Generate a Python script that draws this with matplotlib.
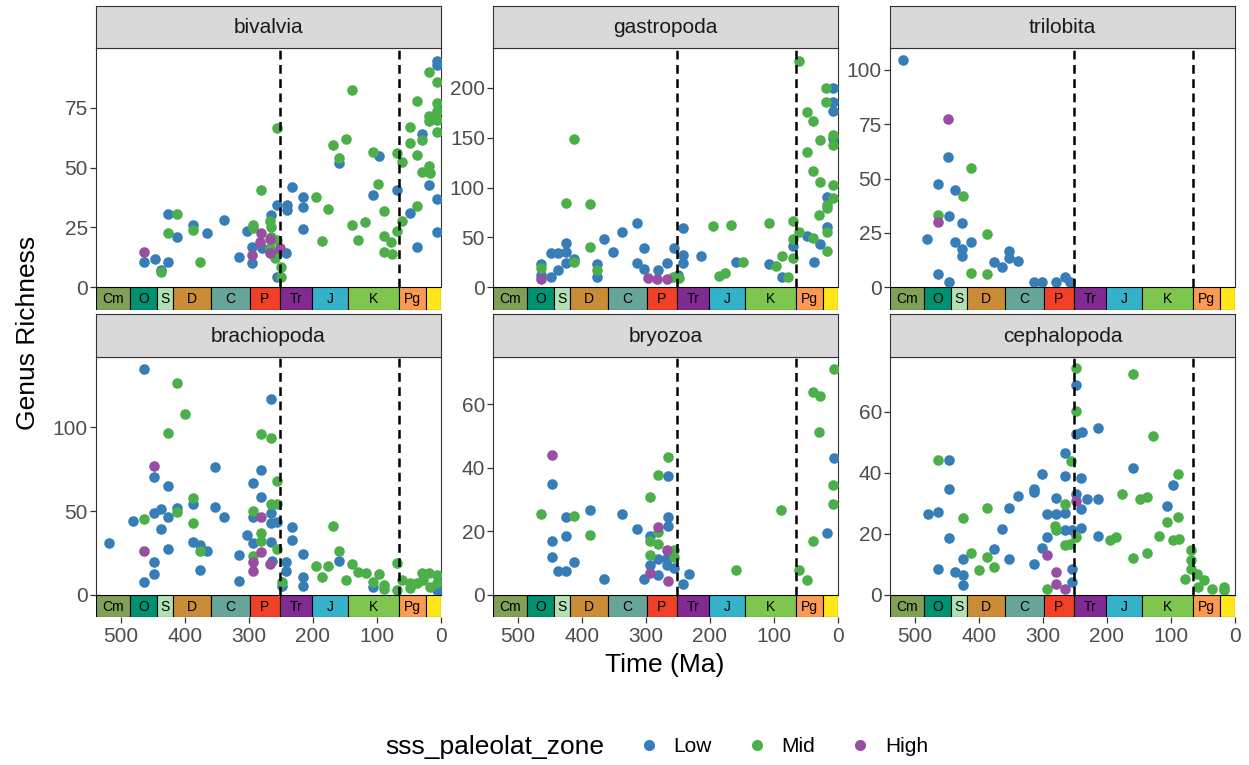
import matplotlib
matplotlib.use('Agg')
import matplotlib.pyplot as plt
from matplotlib.lines import Line2D

plt.rcParams['font.family'] = ['Liberation Sans', 'DejaVu Sans']

# ---- data: time (Ma) and genus richness per class and paleolatitude zone ----
biv_low_t = [6.5, 6.5, 28.9, 96.7, 159.2, 17.9, 69, 106.6, 6.5, 233.3, 215, 215, 241.1, 241, 256.7, 266.1, 215, 48.2, 37.8, 6.5,
             426.1, 413.1, 387, 365.1, 338.6, 303.6, 464.2, 447, 426.1, 438.1, 315.1, 294.8, 294.8, 256.7, 242.2, 280.2, 256.7]
biv_low_n = [94.4, 93, 64, 54.7, 51.9, 42.8, 40.7, 38.6, 36.8, 42.1, 37.9, 33.7, 34.4, 32.4, 34.4, 30.3, 24.3, 31, 17, 23.3,
             30.7, 20.9, 25.9, 22.9, 28.2, 23.7, 10.7, 11.7, 10.5, 7.2, 12.8, 17, 10.3, 4.5, 14.2, 16.3, 14.2]
biv_mid_t = [17.9, 6.5, 138.4, 37.8, 6.5, 6.5, 17.9, 6.5, 17.9, 48.2, 6.5, 255.7, 168.1, 148.3, 28.9, 48.2, 106.6, 69, 37.8,
             61.2, 159.2, 17.9, 28.9, 16.9, 97.7, 281.7, 195.7, 177, 88.9, 37.8, 61.2, 118.6, 138.4, 69, 129, 88.9, 77.9,
             186.3, 88.9, 76.9, 413.1, 426.1, 388.1, 376.6, 438.1, 293.2, 293.2, 267.2, 266.1, 266, 256.7, 267.2, 250.5,
             250.5, 259.3]
biv_mid_n = [90, 85.6, 82.6, 77.7, 77, 73.5, 71.4, 70, 69.3, 67, 65.1, 66.7, 59.6, 61.9, 61.6, 60.3, 56.5, 56.3, 55.4,
             52.2, 54, 50.8, 48, 47.7, 43.1, 40.7, 37.9, 32.6, 31.7, 33.8, 27.5, 27.1, 25.9, 23.7, 19.8, 21.5, 19.1,
             19.4, 14.6, 13.9, 30.7, 22.9, 24, 10.7, 6.3, 26.1, 24.7, 27.5, 25.4, 21.2, 19.8, 16.3, 8.6,
             4.5, 12.1]
biv_high_t = [464.2, 281.7, 282.8, 267.2, 294.8, 267.2, 251.5]
biv_high_n = [14.8, 22.9, 19.1, 20.1, 13.5, 14.2, 16.3]

gas_low_t = [7, 7, 7, 7, 17.4, 17.4, 48.7, 27.9, 37.2, 69.6, 107.1, 87.8, 159.8, 241.6, 241.6, 241.6, 214.5, 255.7, 249.4,
             266.6, 280.7, 314.6, 303.1, 338.1, 352.1, 365.2, 314.6, 303.1, 425.1, 425.1, 448.6, 437.1, 412.1, 425.1,
             377.2, 464.7, 377.2, 437.1, 448.6, 464.7]
gas_low_n = [200.2, 186.2, 176.8, 149.4, 90.2, 60.1, 51.4, 43.4, 25, 41.7, 23.3, 10, 25.7, 59.8, 32.4, 24.7, 31.4, 39.1, 12.3,
             24, 17.3, 64.1, 39.1, 55.8, 35.7, 48.1, 24.7, 18, 44.1, 35.7, 34, 34, 28, 24.7,
             23, 23.3, 10.6, 17.3, 10, 12.3]
gas_mid_t = [60.2, 18.5, 18.5, 48.7, 38.3, 27.9, 7, 7, 48.7, 38.3, 27.9, 7, 7, 17.4, 17.4, 28.9, 70.6, 60.2, 70.6, 38.3,
             17.4, 16.4, 70.6, 107.1, 87.8, 96.7, 77.4, 167.6, 195.7, 147.8, 176.4, 185.8, 412.6, 425.1, 387.6, 387.6,
             412.6, 464.7, 377.2, 247.9, 257.2]
gas_mid_n = [227.3, 199.5, 185.5, 176.1, 166.8, 147.7, 152.7, 142.7, 135.3, 117, 105.3, 102.6, 89.2, 82.5, 79.2, 72.5, 66.5,
             55.8, 48.1, 49.8, 55.8, 36.7, 29, 64.8, 31.4, 21.3, 10.6, 62.5, 61.5, 25, 14, 11.7, 148.7, 84.9, 83.5, 40.1,
             25.7, 19, 17.3, 9, 10]
gas_high_t = [464.7, 296.3, 283.3, 267.7]
gas_high_n = [8.3, 9.6, 8, 8]

tri_low_t = [518.4, 448, 463.7, 437.6, 447, 426.2, 480.9, 437.6, 413.1, 426.2, 426.2, 463.7, 447, 352.7, 352.7, 376.6,
             364.7, 338.6, 314.1, 302.1, 280.2, 265.6, 257.8]
tri_low_n = [104.3, 59.9, 47.5, 44.9, 32.6, 29.5, 22.1, 20.8, 20.8, 17.7, 14.6, 6, 2.6, 16.9, 13.4, 11.4,
             9.2, 11.9, 2.6, 2.6, 2.6, 4.6, 2.3]
tri_mid_t = [412.6, 425.6, 463.7, 387.1, 412.6, 387.1]
tri_mid_n = [54.9, 42.1, 33.4, 24.6, 6.5, 6]
tri_high_t = [448, 463.7]
tri_high_n = [77.4, 29.8]

bra_low_t = [464.2, 266.1, 353.2, 448.1, 281.8, 426.1, 294.3, 281.8, 387, 353.2, 413.1, 438.1, 448.1, 426.1, 338.6, 480.9,
             294.3, 266.1, 266.1, 256.7, 438.1, 232.2, 303.6, 232.2, 387, 376.6, 266.1, 294.3, 518.4, 426.1, 365.1,
             315.1, 215, 448.1, 264.5, 242.1, 242.1, 376.6, 448.1, 215, 215, 159.2, 315.1, 464.2, 248.9, 106.6, 6.5]
bra_low_n = [134.8, 116.9, 76.1, 70.6, 74.5, 65.2, 66.6, 58.2, 54.3, 52.7, 51.7, 51.1, 48.7, 46.3, 46.7, 44.3,
             46.7, 48.7, 42.7, 43.7, 39.1, 40.7, 35.8, 32.8, 31.8, 29.8, 31.8, 31.2, 31.2, 27.4, 26.4,
             23.8, 24.4, 19.5, 20.5, 19.5, 14.5, 14.9, 12.5, 10.9, 5.5, 20.5, 8.3, 7.5, 5.5, 4.6, 3]
bra_mid_t = [413.1, 400.1, 426.1, 281.7, 266.1, 255.7, 388.1, 266.1, 255.7, 413.1, 464.2, 294.3, 388.1, 168.1, 281.8,
             281.8, 376.6, 255.7, 158.7, 294.3, 195.7, 175.9, 138.4, 186.3, 129, 117.5, 96.7, 148.3, 106.6, 88.9, 88.9,
             69, 69, 61.2, 48.2, 37.8, 28.9, 17.9, 6.5, 27.3, 6.5, 48.2, 16.9, 248.9]
bra_mid_n = [126.6, 107.7, 96.4, 95.8, 93.4, 68.2, 58, 54.3, 54.3, 49.7, 45.3, 50.3, 42.7, 41.3, 36.8,
             32.2, 26.4, 27.4, 26.2, 23.4, 17.3, 17.3, 18.5, 10.9, 13.9, 13.3, 12.3, 8.9, 7.5, 5.9, 3.4,
             19.3, 3, 8.9, 6.9, 6.9, 13.3, 13.3, 11.9, 8.9, 6.9, 4, 5, 7.5]
bra_high_t = [448.1, 464.2, 281.8, 281.8, 294.3, 294.3, 267.2]
bra_high_n = [76.9, 26.4, 46.7, 25.4, 19.5, 14.5, 18.5]

bry_low_t = [6, 17.4, 265.1, 265.1, 265.1, 293.7, 314.6, 338.1, 387.6, 425.1, 425.1, 447.5, 447.5, 447.5, 412.6, 437.1,
             425.1, 365.2, 303.1, 293.7, 280.7, 280.7, 267.7, 255.7, 232.2, 241.6, 267.7]
bry_low_n = [43.1, 19.6, 37.4, 24.6, 21.7, 18.6, 20.9, 25.4, 26.9, 24.6, 18.5, 34.9, 17, 12, 10.5, 7.5,
             7.5, 4.9, 4.9, 9.4, 11.2, 6.3, 9.4, 8.4, 6.5, 3.6, 11.5]
bry_mid_t = [6, 38.3, 27.9, 28.9, 7, 7, 88.9, 38.3, 60.2, 48.7, 159.2, 265.1, 280.7, 293.7, 280.7, 293.7, 280.7, 293.7,
             255.7, 255.7, 464.2, 412.6, 387.6]
bry_mid_n = [71.2, 63.9, 62.6, 51.3, 34.6, 28.6, 26.9, 17.1, 7.8, 4.7, 7.8, 43.5, 37.9, 30.7, 19.9, 17.1, 15.9, 12.5,
             14.1, 12, 25.4, 24.9, 19]
bry_high_t = [447.5, 280.7, 266.6, 293.7, 265.1]
bry_high_n = [44.2, 21.5, 14.1, 7, 4.4]

cep_low_t = [248.9, 248.9, 239.5, 213.5, 447, 265.6, 302.1, 265.6, 240.6, 158.7, 96.2, 447, 314.1, 314.1, 338.6, 280.2,
             248.9, 231.7, 213.5, 352.7, 106.6, 480.4, 463.7, 294.3, 280.2, 265.6, 240.6, 364.6, 265.6, 240.6, 255.2,
             294.3, 213.5, 447, 302.1, 376.6, 352.7, 425.6, 314.1, 463.7, 437.6, 425.6, 425.6, 255.2, 255.2]
cep_low_n = [68.9, 52.7, 53.5, 54.6, 44.2, 46.6, 39.6, 39.1, 38.2, 41.7, 36, 34.6, 34.6, 33.8, 32.4, 31.6,
             32.9, 31.4, 31.4, 28.6, 29.2, 26.5, 27.2, 26.4, 26.5, 26.7, 28, 21.5, 21.4, 21.8, 21.2,
             19, 19.2, 18.5, 15.4, 15, 11.7, 11.7, 10.3, 8.4, 7.5, 6.4, 3.4, 8.4, 4.4]
cep_mid_t = [248.9, 158.7, 248.9, 128.5, 463.7, 256.2, 88.4, 175.9, 148.3, 137.9, 265.6, 387.1, 425.6, 88.4, 106.6, 281.3,
             280.2, 118.6, 96.2, 87.3, 195.2, 185.8, 248.9, 265.6, 257.8, 412.6, 387.1, 399.6, 376.6, 137.9, 158.7,
             68.6, 68.6, 68.6, 59.7, 78, 47.7, 57.1, 36.2, 16.4, 16.4, 294.3]
cep_mid_n = [74.2, 72.4, 60.1, 52.2, 44.2, 43.9, 39.6, 33, 31.3, 32.2, 29.7, 28.6, 25.1, 25.6, 24, 22.6,
             21.4, 19.4, 17.9, 18.3, 17.9, 19, 19, 16.5, 16.8, 13.8, 12.4, 8.3, 9.2, 13.8, 12.1,
             14.6, 11.6, 8.6, 6.8, 5.3, 4.8, 2.6, 2, 2.6, 1.7, 2]
cep_high_t = [248.9, 294.3, 280.2, 280.2, 265.6]
cep_high_n = [30.9, 13, 7.5, 3.7, 2]

# geological periods (start, end in Ma)
period_names = ['Cm', 'O', 'S', 'D', 'C', 'P', 'Tr', 'J', 'K', 'Pg', '']
period_start = [538.8, 485.4, 443.8, 419.2, 358.9, 298.9, 251.902, 201.4, 145.0, 66.0, 23.03]
period_end = [485.4, 443.8, 419.2, 358.9, 298.9, 251.902, 201.4, 145.0, 66.0, 23.03, 0.0]
period_cols = ['#7FA056', '#009270', '#B3E1B6', '#CB8C37', '#67A599', '#F04028', '#812B92', '#34B2C9',
               '#7FC64E', '#FD9A52', '#FFE619']

extinctions = [251.902, 66.0]

panels = [
    ('bivalvia', biv_low_t, biv_low_n, biv_mid_t, biv_mid_n, biv_high_t, biv_high_n, 100, [0, 25, 50, 75]),
    ('gastropoda', gas_low_t, gas_low_n, gas_mid_t, gas_mid_n, gas_high_t, gas_high_n, 240, [0, 50, 100, 150, 200]),
    ('trilobita', tri_low_t, tri_low_n, tri_mid_t, tri_mid_n, tri_high_t, tri_high_n, 110, [0, 25, 50, 75, 100]),
    ('brachiopoda', bra_low_t, bra_low_n, bra_mid_t, bra_mid_n, bra_high_t, bra_high_n, 142, [0, 50, 100]),
    ('bryozoa', bry_low_t, bry_low_n, bry_mid_t, bry_mid_n, bry_high_t, bry_high_n, 75, [0, 20, 40, 60]),
    ('cephalopoda', cep_low_t, cep_low_n, cep_mid_t, cep_mid_n, cep_high_t, cep_high_n, 78, [0, 20, 40, 60]),
]

zone_cols = {'Low': '#377EB8', 'Mid': '#4DAF4A', 'High': '#984EA3'}

W, H = 1249, 765
fig = plt.figure(figsize=(W / 100, H / 100), dpi=100)


def box(x0, y0, x1, y1):
    return [x0 / W, 1 - y1 / H, (x1 - x0) / W, (y1 - y0) / H]


col_x = [96.3, 493.3, 890.3]
pw = 344.5
# strip top, plot top, plot bottom, band bottom
rows = [(6, 48, 287.3, 309.5), (314, 356.7, 595, 617)]

TXT = '#4D4D4D'
EDGE = '#333333'

for i, (name, lt, ln, mt, mn, ht, hn, ytop, yt) in enumerate(panels):
    r, c = divmod(i, 3)
    x0 = col_x[c]
    x1 = x0 + pw
    s0, p0, p1, b1 = rows[r]

    ax = fig.add_axes(box(x0, p0, x1, p1))
    ax.scatter(lt, ln, s=58, color=zone_cols['Low'], linewidths=0, zorder=3)
    ax.scatter(mt, mn, s=58, color=zone_cols['Mid'], linewidths=0, zorder=3)
    ax.scatter(ht, hn, s=58, color=zone_cols['High'], linewidths=0, zorder=3)
    for e in extinctions:
        ax.axvline(e, color='black', linestyle=(0, (3.5, 2.2)), linewidth=1.8, zorder=4)
    ax.set_xlim(538.8, 0)
    ax.set_ylim(0, ytop)
    ax.set_yticks(yt)
    ax.set_xticks([])
    ax.tick_params(axis='y', direction='out', length=4, width=0.9, color=EDGE,
                   labelsize=15, labelcolor=TXT, pad=2)
    for sp in ax.spines.values():
        sp.set_color(EDGE)
        sp.set_linewidth(0.8)

    # strip
    st = fig.add_axes(box(x0, s0, x1, p0))
    st.set_facecolor('#D9D9D9')
    st.set_xticks([])
    st.set_yticks([])
    for sp in st.spines.values():
        sp.set_color(EDGE)
        sp.set_linewidth(0.8)
    st.text(0.5, 0.48, name, ha='center', va='center', fontsize=15, color='#1A1A1A', transform=st.transAxes)

    # geological time scale band
    gb = fig.add_axes(box(x0, p1, x1, b1))
    mids = [(a + b) / 2 for a, b in zip(period_start, period_end)]
    widths = [a - b for a, b in zip(period_start, period_end)]
    gb.bar(mids, [1] * len(mids), width=widths, bottom=0, color=period_cols,
           edgecolor='black', linewidth=0.8, align='center')
    for m, lab in zip(mids, period_names):
        gb.text(m, 0.47, lab, ha='center', va='center', fontsize=10, color='black')
    gb.set_xlim(538.8, 0)
    gb.set_ylim(0, 1)
    for sp in gb.spines.values():
        sp.set_visible(False)
    gb.set_yticks([])
    if r == 1:
        gb.set_xticks([500, 400, 300, 200, 100, 0])
        gb.tick_params(axis='x', direction='out', length=4, width=0.9, color=EDGE,
                       labelsize=15, labelcolor=TXT, pad=3)
    else:
        gb.set_xticks([])

fig.text(28 / W, 1 - 333 / H, 'Genus Richness', rotation=90, ha='center', va='center', fontsize=19)
fig.text(665 / W, 1 - 665 / H, 'Time (Ma)', ha='center', va='center', fontsize=19)

# legend
fig.text(385 / W, 1 - 747 / H, 'sss_paleolat_zone', ha='left', va='center', fontsize=19)
handles = [Line2D([], [], marker='o', linestyle='', markersize=8, markeredgewidth=0, color=zone_cols[z])
           for z in ['Low', 'Mid', 'High']]
fig.legend(handles, ['Low', 'Mid', 'High'], loc='center left', bbox_to_anchor=(636 / W, 1 - 747 / H),
           ncol=3, frameon=False, fontsize=15, handlelength=1.2, handletextpad=0.6, columnspacing=1.55,
           borderpad=0, borderaxespad=0)

plt.savefig('out.png', dpi=100)
plt.close(fig)
